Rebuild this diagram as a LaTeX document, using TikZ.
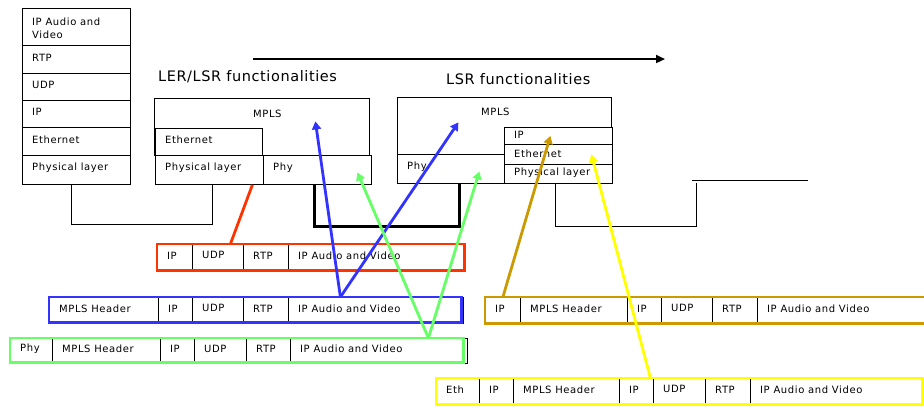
\documentclass[tikz,border=0pt]{standalone}
\usepackage{fontspec}
\newfontfamily\cellfont{DejaVu Sans}[LetterSpace=6]
\newfontfamily\titlefont{DejaVu Sans}[LetterSpace=4]
\usetikzlibrary{arrows.meta}
\definecolor{pktred}{RGB}{255,51,0}
\definecolor{pktblue}{RGB}{51,51,255}
\definecolor{pktgreen}{RGB}{102,255,102}
\definecolor{pktgold}{RGB}{204,153,0}
\definecolor{pktyellow}{RGB}{255,255,0}
\begin{document}
\begin{tikzpicture}[x=1pt,y=-1pt,
 cell/.style 2 args={draw,line width=.8pt,fill=white,anchor=north west,inner sep=0pt,
   minimum width=#1pt,minimum height=#2pt},
 lbl/.style={anchor=west,inner sep=0pt,xshift=10pt,yshift=2pt,align=left,
   font=\cellfont\fontsize{10pt}{13pt}\selectfont},
 ctr/.style={anchor=center,inner sep=0pt,font=\cellfont\fontsize{10pt}{13pt}\selectfont},
 title/.style={anchor=west,inner sep=0pt,font=\titlefont\fontsize{14.5pt}{16pt}\selectfont},
 outl/.style={draw=#1,line width=2.8pt},
 hop/.style={draw=#1,line width=2.8pt,-{Triangle[length=8pt,width=9pt]}},
]
\useasboundingbox (0,0) rectangle (924,407);
 %
 % end host stack
 \node[cell={108}{37},label={[lbl,yshift=-3pt]west:IP Audio and\\Video}] (hvid) at (22,8) {};
 \node[cell={108}{28},label={[lbl]west:RTP}] (hrtp) at (22,45) {};
 \node[cell={108}{27},label={[lbl]west:UDP}] (hudp) at (22,73) {};
 \node[cell={108}{27},label={[lbl]west:IP}] (hip) at (22,100) {};
 \node[cell={108}{28},label={[lbl]west:Ethernet}] (heth) at (22,127) {};
 \node[cell={108}{29},label={[lbl]west:Physical layer}] (hphy) at (22,155) {};
 %
 % LER/LSR
 \node[title] (lertitle) at (158,77) {LER/LSR functionalities};
 \node[cell={215}{57},label={[ctr,xshift=5.5pt,yshift=-16pt]north:MPLS}] (lermpls) at (154,98) {};
 \node[cell={107}{27},label={[lbl]west:Ethernet}] (lereth) at (155,128) {};
 \node[cell={108}{29},label={[lbl]west:Physical layer}] (lerphys) at (155,155) {};
 \node[cell={108}{29},label={[lbl]west:Phy}] (lerphy) at (263,155) {};
 %
 % LSR
 \node[title] (lsrtitle) at (446,79) {LSR functionalities};
 \node[cell={214}{57},label={[ctr,xshift=-9pt,yshift=-15pt]north:MPLS}] (lsrmpls) at (397,97) {};
 \node[cell={107}{29},label={[lbl]west:Phy}] (lsrphy) at (397,154) {};
 \node[cell={108}{17},label={[lbl,yshift=-1pt]west:IP}] (lsrip) at (504,127) {};
 \node[cell={108}{20},label={[lbl,yshift=-1pt]west:Ethernet}] (lsreth) at (504,144) {};
 \node[cell={108}{19},label={[lbl,yshift=-1pt]west:Physical layer}] (lsrphys) at (504,164) {};
 %
 % links
 \coordinate (flowstart) at (253,59);
 \coordinate (flowend) at (665,59);
 \draw[line width=2.5pt,-{Triangle[length=9pt,width=8pt]}] (flowstart) -- (flowend);
 \draw[line width=1pt] ([xshift=-5pt]hphy.south) -- ++(0,40) -| ([xshift=3pt]lerphys.south);
 \draw[line width=3pt] ([xshift=-3pt]lerphy.south) -- ++(0,42) -| ([xshift=8.5pt]lsrphy.south);
 \coordinate (nextdev) at (696,183);
 \draw[line width=1pt] ([xshift=-3pt]lsrphys.south) -- ++(0,43) -| (nextdev);
 \coordinate (nextl) at (692,180);
 \coordinate (nextr) at (808,180);
 \draw[line width=1pt] (nextl) -- (nextr);
 %
 % packet after the LER
 \node[cell={35}{26},label={[lbl]west:IP}] (rip) at (157,244) {};
 \node[cell={51}{26},label={[lbl]west:UDP}] (rudp) at (192,244) {};
 \node[cell={45}{26},label={[lbl]west:RTP}] (rrtp) at (243,244) {};
 \node[cell={176}{26},label={[lbl]west:IP Audio and Video}] (rvid) at (288,244) {};
 \draw[outl=pktred] (rip.north west) rectangle (rvid.south east);
 %
 \node[cell={109}{26},label={[lbl]west:MPLS Header}] (bhdr) at (49,297) {};
 \node[cell={34}{26},label={[lbl]west:IP}] (bip) at (158,297) {};
 \node[cell={51}{26},label={[lbl]west:UDP}] (budp) at (192,297) {};
 \node[cell={45}{26},label={[lbl]west:RTP}] (brtp) at (243,297) {};
 \node[cell={175}{26},label={[lbl]west:IP Audio and Video}] (bvid) at (288,297) {};
 \draw[outl=pktblue] (bhdr.north west) rectangle ([xshift=-2pt,yshift=1pt]bvid.south east);
 %
 \node[cell={42}{25},label={[lbl]west:Phy}] (gphy) at (10,338) {};
 \node[cell={108}{25},label={[lbl]west:MPLS Header}] (ghdr) at (52,338) {};
 \node[cell={34}{25},label={[lbl]west:IP}] (gip) at (160,338) {};
 \node[cell={52}{25},label={[lbl]west:UDP}] (gudp) at (194,338) {};
 \node[cell={44}{25},label={[lbl]west:RTP}] (grtp) at (246,338) {};
 \node[cell={177}{25},label={[lbl]west:IP Audio and Video}] (gvid) at (290,338) {};
 \draw[outl=pktgreen] (gphy.north west) rectangle ([xshift=-4pt,yshift=1pt]gvid.south east);
 %
 % packets after the LSR
 \node[cell={35}{26},label={[lbl]west:IP}] (oip) at (485,297) {};
 \node[cell={107}{26},label={[lbl]west:MPLS Header}] (ohdr) at (520,297) {};
 \node[cell={34}{26},label={[lbl]west:IP}] (oip2) at (627,297) {};
 \node[cell={51}{26},label={[lbl]west:UDP}] (oudp) at (661,297) {};
 \node[cell={45}{26},label={[lbl]west:RTP}] (ortp) at (712,297) {};
 \node[cell={172}{26},label={[lbl]west:IP Audio and Video}] (ovid) at (757,297) {};
 \draw[outl=pktgold] (oip.north west) rectangle (ovid.south east);
 %
 \node[cell={43}{26},label={[lbl]west:Eth}] (yeth) at (436,378) {};
 \node[cell={34}{26},label={[lbl]west:IP}] (yip) at (479,378) {};
 \node[cell={106}{26},label={[lbl]west:MPLS Header}] (yhdr) at (513,378) {};
 \node[cell={34}{26},label={[lbl]west:IP}] (yip2) at (619,378) {};
 \node[cell={52}{26},label={[lbl]west:UDP}] (yudp) at (653,378) {};
 \node[cell={45}{26},label={[lbl]west:RTP}] (yrtp) at (705,378) {};
 \node[cell={172}{26},label={[lbl]west:IP Audio and Video}] (yvid) at (750,378) {};
 \draw[outl=pktyellow] (yeth.north west) rectangle (yvid.south east);
 %
 % which layer reads which header
 \draw[pktred,line width=2.8pt] ([xshift=12.5pt]rudp.north) -- ([xshift=43pt]lerphys.south);
 \draw[hop=pktblue] ([xshift=-35.5pt]bvid.north) -- ([xshift=53.5pt,yshift=5.5pt]lermpls.center);
 \draw[hop=pktblue] ([xshift=-35.5pt]bvid.north) -- ([xshift=-46pt,yshift=3.5pt]lsrmpls.center);
 \draw[hop=pktgreen] ([xshift=49.5pt]gvid.north) -- ([xshift=40pt,yshift=-2.5pt]lerphy.center);
 \draw[hop=pktgreen] ([xshift=49.5pt]gvid.north) -- ([xshift=28.5pt,yshift=-2.5pt]lsrphy.center);
 \draw[hop=pktgold] (oip.north) -- ([xshift=-8pt]lsrip.center);
 \draw[hop=pktyellow] ([xshift=14pt]yip2.north) -- ([xshift=33pt]lsreth.center);
\end{tikzpicture}
\end{document}
